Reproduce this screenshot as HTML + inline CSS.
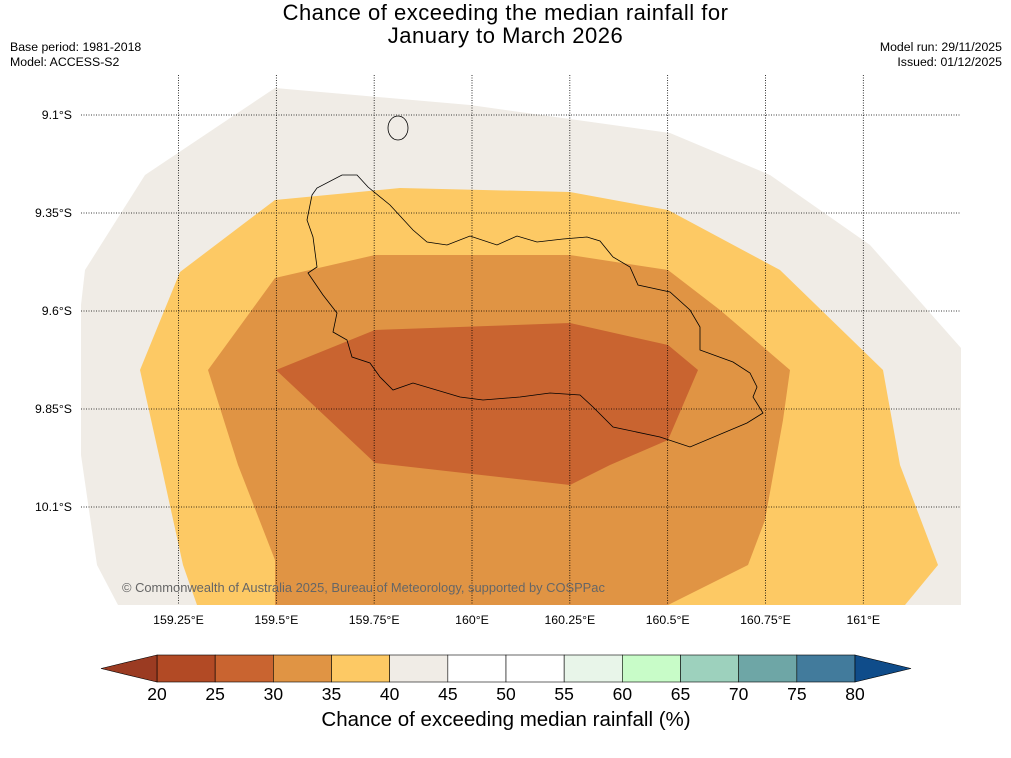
<!DOCTYPE html>
<html><head><meta charset="utf-8"><style>
body{margin:0;background:#fff;font-family:"Liberation Sans","DejaVu Sans",sans-serif}
#wrap{position:relative;width:1011px;height:758px;overflow:hidden}
.t{position:absolute;font-size:12.3px;color:#000}
</style></head><body>
<div id="wrap">
<div style="position:absolute;left:0;width:1011px;top:1px;text-align:center;font-size:22px;line-height:23px;letter-spacing:0.5px">Chance of exceeding the median rainfall for<br>January to March 2026</div>
<div class="t" style="left:10px;top:40px">Base period: 1981-2018</div>
<div class="t" style="left:10px;top:55px">Model: ACCESS-S2</div>
<div class="t" style="right:9px;top:40px;text-align:right">Model run: 29/11/2025</div>
<div class="t" style="right:9px;top:55px;text-align:right">Issued: 01/12/2025</div>
<svg id="map" width="1011" height="758" style="position:absolute;left:0;top:0"></svg>
</div>
<script>
const lonTicks=[159.25,159.5,159.75,160,160.25,160.5,160.75,161];
const latTicks=[9.1,9.35,9.6,9.85,10.1];
const binEdges=[20,25,30,35,40,45,50,55,60,65,70,75,80];
const binColors=['#b24a25','#c96430','#e09444','#fdc964','#f0ece6','#ffffff','#ffffff','#e8f5e9','#c8fcc8','#9dd1bd','#6ea6a6','#427b9c'];
const outerPoly=[[81,305],[85,270],[145,175],[275,88],[470,105],[670,133],[770,175],[870,245],[961,348],[961,605],[118,605],[97,565],[81,455]];
const yellowPoly=[[140,370],[180,272],[275,200],[400,188],[570,192],[668,210],[780,270],[883,370],[900,465],[938,565],[905,605],[197,605],[183,565],[160,460]];
const orangePoly=[[208,370],[275,278],[375,255],[570,255],[668,270],[720,310],[790,370],[783,420],[765,520],[748,565],[668,605],[275,605],[275,560],[238,465]];
const redPoly=[[276,370],[375,330],[570,323],[668,345],[698,370],[668,440],[610,465],[570,485],[375,463]];
const coast=[[312,195],[317,188],[342,175],[357,175],[368,187],[390,205],[413,230],[427,242],[447,245],[470,236],[497,245],[517,236],[537,242],[563,239],[587,237],[600,241],[613,257],[630,267],[638,285],[670,292],[690,310],[700,327],[700,350],[733,362],[750,373],[757,387],[753,397],[763,413],[747,423],[690,447],[660,437],[613,427],[593,407],[580,395],[550,393],[520,397],[483,400],[460,397],[413,383],[393,390],[380,377],[370,363],[352,357],[347,340],[333,332],[337,313],[323,295],[308,273],[317,267],[313,237],[307,220]];
const NS='http://www.w3.org/2000/svg';
const svg=document.getElementById('map');
function lx(lon){return 472+(lon-160)*391.3;}
function ly(lat){return 115+(lat-9.1)*392;}
function mk(t,a){const e=document.createElementNS(NS,t);for(const k in a)e.setAttribute(k,a[k]);svg.appendChild(e);return e;}
const cp=mk('clipPath',{id:'mc'});
const cr=document.createElementNS(NS,'rect');cr.setAttribute('x',81);cr.setAttribute('y',75);cr.setAttribute('width',880);cr.setAttribute('height',530);cp.appendChild(cr);
const g=mk('g',{'clip-path':'url(#mc)'});
function poly(pts,fill,name){const p=document.createElementNS(NS,'polygon');p.setAttribute('points',pts.map(q=>q.join(',')).join(' '));p.setAttribute('fill',fill);


g.appendChild(p);}
poly(outerPoly,'#f0ece6','contour-40-45');
poly(yellowPoly,'#fdc964','contour-35-40');
poly(orangePoly,'#e09444','contour-30-35');
poly(redPoly,'#c96430','contour-25-30');
const c=document.createElementNS(NS,'polygon');c.setAttribute('points',coast.map(q=>q.join(',')).join(' '));c.setAttribute('fill','none');c.setAttribute('stroke','#000');c.setAttribute('stroke-width','0.8');


g.appendChild(c);
const e2=document.createElementNS(NS,'ellipse');e2.setAttribute('cx',398);e2.setAttribute('cy',128);e2.setAttribute('rx',10);e2.setAttribute('ry',12);e2.setAttribute('fill','none');e2.setAttribute('stroke','#000');e2.setAttribute('stroke-width','0.8');


g.appendChild(e2);
lonTicks.forEach(v=>{const x=lx(v);
const l=mk('line',{x1:x,x2:x,y1:75,y2:605,stroke:'#000','stroke-width':0.8,'stroke-dasharray':'1,1.5'});


const t=mk('text',{x:x,y:624,'font-size':12.3,'text-anchor':'middle','font-family':'Liberation Sans, sans-serif'});t.textContent=v+'°E';

});
latTicks.forEach(v=>{const y=ly(v);
const l=mk('line',{x1:81,x2:961,y1:y,y2:y,stroke:'#000','stroke-width':0.8,'stroke-dasharray':'1,1.5'});


const t=mk('text',{x:72,y:y+4,'font-size':12.3,'text-anchor':'end','font-family':'Liberation Sans, sans-serif'});t.textContent=v+'°S';

});
const cpy=mk('text',{x:122,y:592,'font-size':12.9,fill:'#666','font-family':'Liberation Sans, sans-serif'});cpy.textContent='© Commonwealth of Australia 2025, Bureau of Meteorology, supported by COSPPac';


function cx(v){return 157+(v-20)*(855-157)/60;}
const cbTop=655,cbBot=682;
for(let i=0;i<binColors.length;i++){
const r=mk('rect',{x:cx(binEdges[i]),y:cbTop,width:cx(binEdges[i+1])-cx(binEdges[i]),height:cbBot-cbTop,fill:binColors[i],stroke:'#000','stroke-width':0.6});

}
const tl=mk('polygon',{points:`${cx(20)},${cbTop} 101,${(cbTop+cbBot)/2} ${cx(20)},${cbBot}`,fill:'#9b3b22',stroke:'#000','stroke-width':0.6});


const tr=mk('polygon',{points:`${cx(80)},${cbTop} 911,${(cbTop+cbBot)/2} ${cx(80)},${cbBot}`,fill:'#0f4c8a',stroke:'#000','stroke-width':0.6});


binEdges.forEach(v=>{const t=mk('text',{x:cx(v),y:700,'font-size':17.5,'text-anchor':'middle','font-family':'Liberation Sans, sans-serif'});t.textContent=v;

});
const ct=mk('text',{x:506,y:726,'font-size':20.5,'text-anchor':'middle','font-family':'Liberation Sans, sans-serif'});ct.textContent='Chance of exceeding median rainfall (%)';


</script>
</body></html>
